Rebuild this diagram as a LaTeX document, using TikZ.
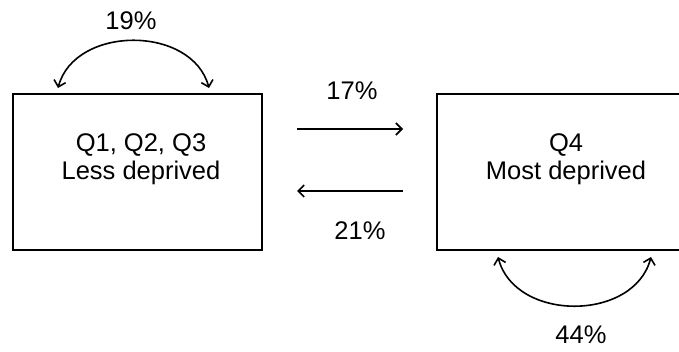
\documentclass[tikz,border=0pt]{standalone}
\usepackage{fontspec}
\setmainfont{Liberation Sans}
\usetikzlibrary{arrows.meta}
\begin{document}
\begin{tikzpicture}[x=1pt,y=-1pt,
  boxnode/.style={draw=black,line width=2pt,minimum width=249pt,minimum height=156pt,inner sep=0pt},
  txt/.style={font=\fontsize{25.5pt}{28pt}\selectfont,text=black,inner sep=0pt},
  flow/.style={line width=1.6pt,-{Straight Barb[length=6pt,width=12pt,line width=1.6pt]}},
  loop/.style={line width=1.6pt,{Straight Barb[length=6pt,width=12pt,line width=1.6pt]}-{Straight Barb[length=6pt,width=12pt,line width=1.6pt]}}]
\clip (0,0) rectangle (679,352);
\fill[white] (0,0) rectangle (679,352);
% boxes
\node[boxnode] (lbox) at (137.5,172) {};
\node[boxnode,minimum width=258pt] (rbox) at (566,172.5) {};
% box texts
\node[txt,anchor=base] (l1) at (141,152) {Q1, Q2, Q3};
\node[txt,anchor=base] (l2) at (141,180) {Less deprived};
\node[txt,anchor=base] (r1) at (566,152) {Q4};
\node[txt,anchor=base] (r2) at (566,180) {Most deprived};
% percentages
\node[txt,anchor=base] (p19) at (131,30) {19\%};
\node[txt,anchor=base] (p17) at (352,100) {17\%};
\node[txt,anchor=base] (p21) at (360,240) {21\%};
\node[txt,anchor=base] (p44) at (581,343) {44\%};
% connector end points
\coordinate (a1) at (297,129);
\coordinate (a2) at (403,129);
\coordinate (b1) at (403,191);
\coordinate (b2) at (297,191);
\coordinate (t1) at (58,88);
\coordinate (t2) at (209,88);
\coordinate (u1) at (498,257);
\coordinate (u2) at (651,257);
% connectors
\draw[flow] (a1) -- (a2);
\draw[flow] (b1) -- (b2);
\draw[loop] (t1) .. controls (75,25) and (192,25) .. (t2);
\draw[loop] (u1) .. controls (515,322) and (634,322) .. (u2);
\end{tikzpicture}
\end{document}
